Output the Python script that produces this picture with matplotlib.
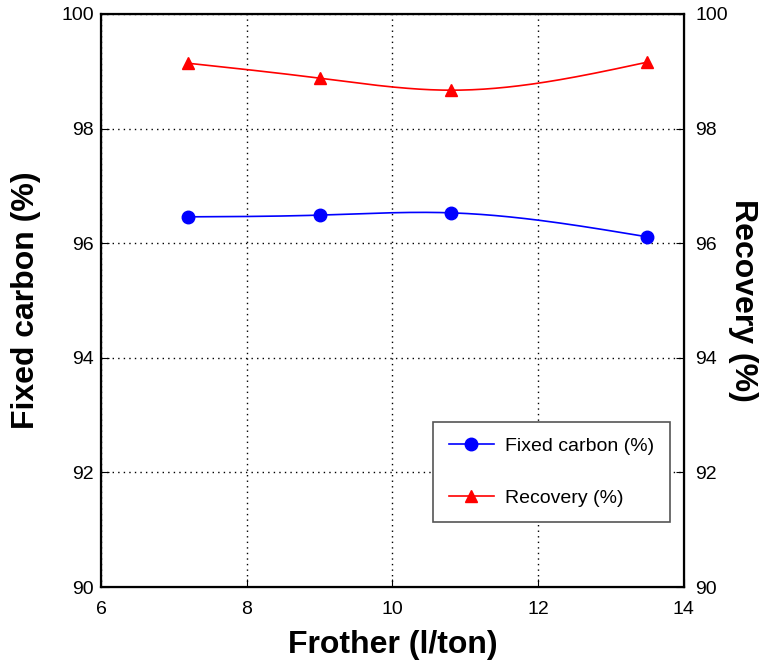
import numpy as np
import matplotlib.pyplot as plt

plt.rcParams['font.family'] = ['Liberation Sans', 'DejaVu Sans']

frother = [7.2, 9.0, 10.8, 13.5]
fixed_carbon = [96.46, 96.49, 96.53, 96.11]
recovery = [99.14, 98.88, 98.67, 99.16]


def natural_spline(x, y, n=200):
    # natural cubic spline, only for drawing the smooth line between points
    x = np.asarray(x, float)
    y = np.asarray(y, float)
    m = len(x)
    h = np.diff(x)
    A = np.zeros((m, m))
    b = np.zeros(m)
    A[0, 0] = 1
    A[-1, -1] = 1
    for i in range(1, m - 1):
        A[i, i - 1] = h[i - 1]
        A[i, i] = 2 * (h[i - 1] + h[i])
        A[i, i + 1] = h[i]
        b[i] = 6 * ((y[i + 1] - y[i]) / h[i] - (y[i] - y[i - 1]) / h[i - 1])
    M = np.linalg.solve(A, b)
    xs = np.linspace(x[0], x[-1], n)
    ys = np.empty_like(xs)
    for k, xv in enumerate(xs):
        i = min(np.searchsorted(x, xv) - 1, m - 2)
        i = max(i, 0)
        t1 = x[i + 1] - xv
        t0 = xv - x[i]
        ys[k] = (M[i] * t1 ** 3 + M[i + 1] * t0 ** 3) / (6 * h[i]) \
            + (y[i] / h[i] - M[i] * h[i] / 6) * t1 \
            + (y[i + 1] / h[i] - M[i + 1] * h[i] / 6) * t0
    return xs, ys


fig = plt.figure(figsize=(7.62, 6.66), dpi=100)
ax = fig.add_axes([0.1325, 0.1186, 0.765, 0.8604])

xs, ys = natural_spline(frother, fixed_carbon)
ax.plot(xs, ys, color='blue', lw=1.2)
ax.plot(frother, fixed_carbon, 'o', color='blue', ms=9)

xs, ys = natural_spline(frother, recovery)
ax.plot(xs, ys, color='red', lw=1.2)
ax.plot(frother, recovery, '^', color='red', ms=9)

# legend handles
ax.plot([], [], '-o', color='blue', ms=9, lw=1.2, label='Fixed carbon (%)')
ax.plot([], [], '-^', color='red', ms=9, lw=1.2, label='Recovery (%)')

ax.set_xlim(6, 14)
ax.set_ylim(90, 100)
ax.set_xticks([6, 8, 10, 12, 14])
ax.set_yticks([90, 92, 94, 96, 98, 100])
ax.grid(True, color='black', linestyle=(0, (1, 3)), linewidth=1.0)
ax.tick_params(direction='in', labelsize=14, length=6)
ax.tick_params(axis='x', pad=10)
ax.tick_params(axis='y', pad=5)
for s in ax.spines.values():
    s.set_linewidth(1.6)

ax.set_xlabel('Frother (l/ton)', fontsize=23, fontweight='bold', labelpad=9)
ax.set_ylabel('Fixed carbon (%)', fontsize=23, fontweight='bold')
ax.yaxis.set_label_coords(-0.103, 0.5)

ax2 = ax.twinx()
ax2.set_ylim(90, 100)
ax2.set_yticks([90, 92, 94, 96, 98, 100])
ax2.tick_params(direction='in', labelsize=14, length=6, pad=8)
fig.text(743 / 762, 0.5 * (0.1186 + 0.979), 'Recovery (%)', fontsize=23,
         fontweight='bold', rotation=270, ha='center', va='center')

h, l = ax.get_legend_handles_labels()
leg = ax.legend(h[-2:], l[-2:], loc='lower right', bbox_to_anchor=(0.976, 0.113),
                borderaxespad=0, fontsize=14, fancybox=False, edgecolor='#555555',
                framealpha=1, borderpad=0.8, labelspacing=1.75, handlelength=2.3,
                handletextpad=0.6)
leg.get_frame().set_linewidth(1.2)

fig.savefig('out.png', dpi=100)
